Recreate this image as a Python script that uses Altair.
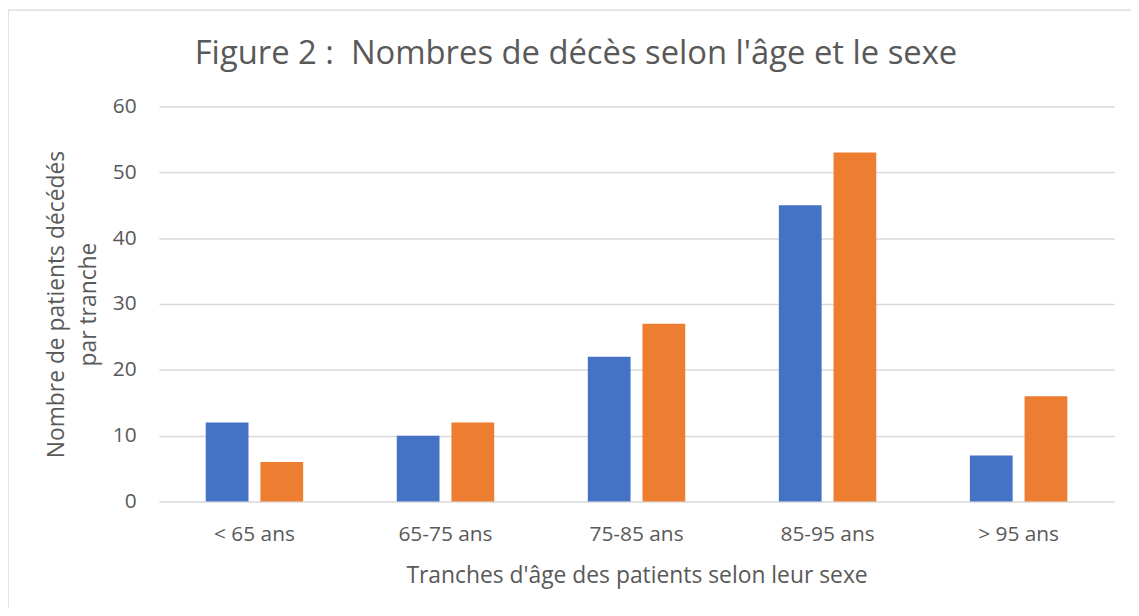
import altair as alt
import pandas as pd

categories = ["< 65 ans", "65-75 ans", "75-85 ans", "85-95 ans", "> 95 ans"]
series_names = ["Série 1", "Série 2"]
serie1 = [12, 10, 22, 45, 7]
serie2 = [6, 12, 27, 53, 16]
y_ticks = [0, 10, 20, 30, 40, 50, 60]
title_text = "Figure 2 : \u00a0Nombres de décès selon l'âge et le sexe"

rows = []
for c, a, b in zip(categories, serie1, serie2):
    rows.append({"tranche": c, "serie": series_names[0], "valeur": a})
    rows.append({"tranche": c, "serie": series_names[1], "valeur": b})
df = pd.DataFrame(rows)

FONT = "Open Sans"
TXT = "#595959"
GRID = "#D9D9D9"

bars = alt.Chart(df).mark_bar().encode(
    x=alt.X(
        "tranche:N",
        sort=categories,
        scale=alt.Scale(paddingInner=0.49, paddingOuter=0.245),
        axis=alt.Axis(
            title="Tranches d'âge des patients selon leur sexe",
            labelAngle=0,
            labelFont=FONT,
            labelFontSize=21,
            labelColor=TXT,
            labelPadding=22,
            ticks=False,
            domain=False,
            titleFont=FONT,
            titleFontSize=23,
            titleFontWeight="normal",
            titleColor=TXT,
            titlePadding=20,
        ),
    ),
    xOffset=alt.XOffset("serie:N", sort=series_names,
                        scale=alt.Scale(paddingInner=0.218, paddingOuter=0)),
    y=alt.Y(
        "valeur:Q",
        scale=alt.Scale(domain=[0, 60], nice=False),
        axis=alt.Axis(
            title=["Nombre de patients décédés", "par tranche"],
            values=y_ticks,
            labelFont=FONT,
            labelFontSize=21,
            labelColor=TXT,
            labelPadding=23,
            ticks=False,
            domain=False,
            grid=True,
            gridColor=GRID,
            gridWidth=1.5,
            titleFont=FONT,
            titleFontSize=23,
            titleFontWeight="normal",
            titleColor=TXT,
            titlePadding=12,
            titleLineHeight=32,
        ),
    ),
    color=alt.Color(
        "serie:N",
        sort=series_names,
        scale=alt.Scale(domain=series_names, range=["#4472C4", "#ED7D31"]),
        legend=None,
    ),
)

border = alt.Chart(pd.DataFrame({"k": [0]})).mark_rect(
    fillOpacity=0, stroke=GRID, strokeWidth=1.5
).encode(
    x=alt.value(-152),
    x2=alt.value(1000),
    y=alt.value(-97),
    y2=alt.value(560),
)

title = alt.Chart(pd.DataFrame({"k": [0]})).mark_text(
    font=FONT, fontSize=33, color=TXT, align="center", baseline="middle"
).encode(
    x=alt.value(420),
    y=alt.value(-53),
    text=alt.value(title_text),
)

chart = alt.layer(border, title, bars).properties(
    width=962,
    height=398,
    padding={"left": 152, "top": 97, "right": 17, "bottom": 105},
    autosize=alt.AutoSizeParams(type="none"),
).configure_view(stroke=None)

chart.save("out.html", embed_options={"renderer": "svg", "actions": False})
